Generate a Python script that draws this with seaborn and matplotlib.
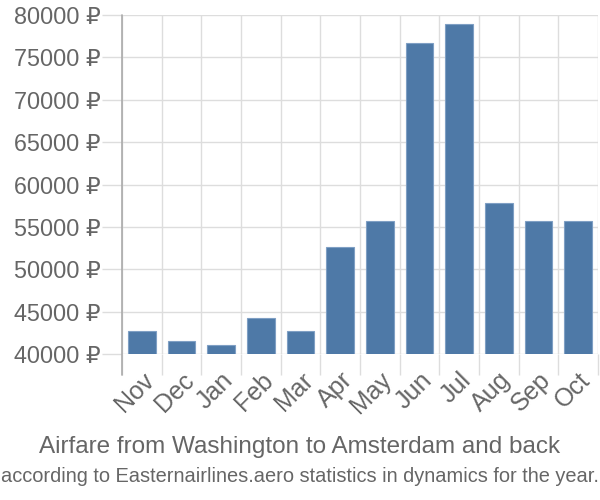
import matplotlib
matplotlib.use("Agg")
import matplotlib.pyplot as plt
import matplotlib.transforms as mtransforms
import seaborn as sns
import pandas as pd
import numpy as np

months = ["Nov", "Dec", "Jan", "Feb", "Mar", "Apr", "May", "Jun", "Jul", "Aug", "Sep", "Oct"]
prices = [42700, 41500, 41100, 44250, 42700, 52600, 55700, 76700, 78900, 57800, 55700, 55700]
yticks = [40000, 45000, 50000, 55000, 60000, 65000, 70000, 75000, 80000]
title = "Airfare from Washington to Amsterdam and back"
subtitle = "according to Easternairlines.aero statistics in dynamics for the year."

sns.set_style("white")
plt.rcParams["font.family"] = ["Liberation Sans", "DejaVu Sans"]

df = pd.DataFrame({"month": months, "price": prices})

fig = plt.figure(figsize=(6, 5), dpi=100)
ax = fig.add_axes([122/600, 1-354/500, (598-122)/600, (354-15)/500])

sns.barplot(data=df, x="month", y="price", color="#4e79a7", saturation=1,
            width=0.7, edgecolor="#7f9fc4", linewidth=0.8, ax=ax, zorder=3)

ax.set_ylim(40000, 80000)
ax.set_xlim(-0.5, len(months) - 0.5)
ax.set_yticks(yticks)
ax.set_yticklabels([f"{v} ₽" for v in yticks], fontsize=16.8, color="#666666")
ax.set_xticks(range(len(months)))
ax.set_xticklabels(months, fontsize=18, color="#666666", rotation=45,
                   ha="right", va="top", rotation_mode="anchor")
offset = mtransforms.ScaledTranslation(5/100, 0, fig.dpi_scale_trans)
for lab in ax.get_xticklabels():
    lab.set_transform(lab.get_transform() + offset)
ax.set_xlabel("")
ax.set_ylabel("")

grid_c = "#dddddd"
ax.yaxis.grid(True, color=grid_c, linewidth=1, zorder=0)
ax.set_xticks(np.arange(-0.5, len(months), 1.0), minor=True)
ax.xaxis.grid(True, which="minor", color=grid_c, linewidth=1, zorder=0)
ax.set_axisbelow(True)

for s in ["top", "right", "bottom", "left"]:
    ax.spines[s].set_visible(False)
ax.axvline(-0.5, ymin=-0.062, ymax=1, color="#aaaaaa", linewidth=1.2, clip_on=False, zorder=4)

ax.tick_params(axis="y", which="major", length=14.5, width=1, color=grid_c, pad=1, left=True)
ax.tick_params(axis="x", which="minor", length=15, width=1, color=grid_c, bottom=True)
ax.tick_params(axis="x", which="major", length=0, pad=10)

fig.text(0.5, 1-447/500, title, ha="center", va="center", fontsize=17.5, color="#666666")
fig.text(0.5, 1-476/500, subtitle, ha="center", va="center", fontsize=14.4, color="#666666")

fig.savefig("out.png", dpi=100)
